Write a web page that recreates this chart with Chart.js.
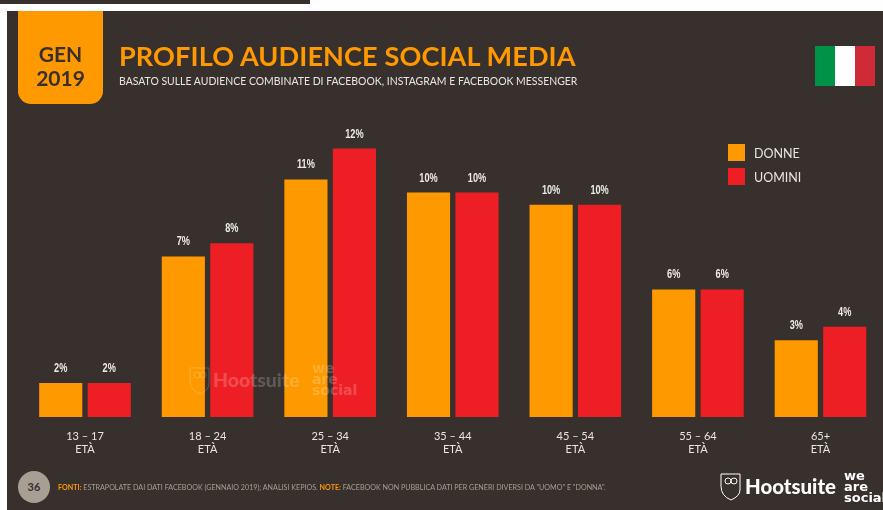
<!DOCTYPE html>
<html>
<head>
<meta charset="utf-8">
<script src="https://cdn.jsdelivr.net/npm/chart.js@4"></script>
<style>
html, body { margin: 0; padding: 0; background: #fff; }
#page { position: relative; width: 883px; height: 510px; overflow: hidden; font-family: Lato, sans-serif; }
#topstrip { position: absolute; left: 0; top: 0; width: 310px; height: 4px; background: #37302c; }
#panel { position: absolute; left: 7px; top: 11px; width: 876px; height: 499px; background: #37302c; }
#chart { position: absolute; left: 0; top: 0; }
.t { position: absolute; white-space: nowrap; line-height: 1; }
#badge { position: absolute; left: 18px; top: 11px; width: 85px; height: 93px; background: #ff9900; border-radius: 0 0 13px 13px; color: #37302c; font-weight: 700; font-size: 21px; text-align: center; line-height: 24px; }
#badge div { position: relative; top: 31px; }
#title { left: 119px; top: 42px; font-size: 27.1px; font-weight: 700; color: #ff9900; letter-spacing: 0.1px; }
#subtitle { left: 119px; top: 76px; font-size: 10.45px; color: #e8e6e3; }
.flag { position: absolute; top: 46px; height: 40px; }
.swatch { position: absolute; left: 728px; width: 17px; height: 17px; }
.legtext { left: 754px; font-size: 12.5px; color: #e8e6e3; }
#pageno { position: absolute; left: 18px; top: 471px; width: 32px; height: 32px; border-radius: 50%; background: #a89f94; color: #37302c; font-size: 11px; font-weight: 700; text-align: center; line-height: 32px; }
#foot { left: 58px; top: 484px; font-size: 7.15px; color: #a89f94; }
#foot b { color: #ff9900; }
.hoot { font-weight: 900; color: #fff; }
.was { font-family: "DejaVu Sans", sans-serif; font-weight: 700; color: #fff; line-height: 11px; white-space: pre; }
.wm { opacity: 0.2; }
</style>
</head>
<body>
<div id="page">
  <div id="topstrip"></div>
  <div id="panel"></div>
  <canvas id="chart" width="883" height="510"></canvas>

  <div id="badge"><div>GEN<br>2019</div></div>
  <div class="t" id="title">PROFILO AUDIENCE SOCIAL MEDIA</div>
  <div class="t" id="subtitle">BASATO SULLE AUDIENCE COMBINATE DI FACEBOOK, INSTAGRAM E FACEBOOK MESSENGER</div>

  <div class="flag" style="left:815px;width:20px;background:#009246"></div>
  <div class="flag" style="left:835px;width:20px;background:#fff"></div>
  <div class="flag" style="left:855px;width:20px;background:#ce2b37"></div>

  <div id="legend"></div>

  <!-- watermark -->
  <svg class="wm" style="position:absolute;left:189px;top:366px" width="21" height="29" viewBox="0 0 21 29">
    <path d="M1 2 H20 V18 Q20 24 11 28 Q1 24 1 14 Z" fill="none" stroke="#fff" stroke-width="1"/>
    <circle cx="8" cy="9" r="3" fill="none" stroke="#fff"/><circle cx="14" cy="9" r="3" fill="none" stroke="#fff"/>
  </svg>
  <div class="t hoot wm" style="left:213px;top:370px;font-size:19.4px">Hootsuite</div>
  <div class="t was wm" style="left:312px;top:363px;font-size:14px">we
are
social</div>

  <div id="pageno">36</div>
  <div class="t" id="foot"><b>FONTI:</b> ESTRAPOLATE DAI DATI FACEBOOK (GENNAIO 2019); ANALISI KEPIOS. <b>NOTE:</b> FACEBOOK NON PUBBLICA DATI PER GENERI DIVERSI DA "UOMO" E "DONNA".</div>

  <svg style="position:absolute;left:720px;top:473px" width="21" height="28" viewBox="0 0 21 28">
    <path d="M1 1 H20 V17 Q20 23 11 27 Q1 23 1 13 Z" fill="none" stroke="#fff" stroke-width="1"/>
    <circle cx="8" cy="8" r="3" fill="none" stroke="#fff"/><circle cx="14" cy="8" r="3" fill="none" stroke="#fff"/>
  </svg>
  <div class="t hoot" style="left:745px;top:476px;font-size:20.4px">Hootsuite</div>
  <div class="t was" style="left:844px;top:470px;font-size:13px">we
are
social</div>
</div>

<script>
const ageGroups = [["13 – 17", "ETÀ"], ["18 – 24", "ETÀ"], ["25 – 34", "ETÀ"], ["35 – 44", "ETÀ"], ["45 – 54", "ETÀ"], ["55 – 64", "ETÀ"], ["65+", "ETÀ"]];
const donne = [1.55, 7.3, 10.8, 10.2, 9.65, 5.8, 3.49];
const uomini = [1.55, 7.9, 12.2, 10.2, 9.65, 5.8, 4.1];

const ORANGE = '#ff9900';
const RED = '#ee1f24';

// bar value labels, rounded to whole percent and squeezed to a condensed look
const valueLabels = {
    id: 'valueLabels',
    afterDatasetsDraw(chart) {
        const c = chart.ctx;
        c.save();
        c.font = 'bold 13.5px "Liberation Sans", sans-serif';
        c.fillStyle = '#ecebe8';
        c.textAlign = 'center';
        c.textBaseline = 'alphabetic';
        chart.data.datasets.forEach((ds, i) => {
            chart.getDatasetMeta(i).data.forEach((bar, j) => {
                c.save();
                c.translate(bar.x, bar.y - 11);
                c.scale(0.68, 1);
                c.fillText(Math.round(ds.data[j]) + '%', 0, 0);
                c.restore();
            });
        });
        c.restore();
    }
};

const chart = new Chart(document.querySelector('#chart').getContext('2d'), {
    type: 'bar',
    data: {
        labels: ageGroups,
        datasets: [
            { label: 'DONNE', data: donne, backgroundColor: ORANGE, categoryPercentage: 0.791, barPercentage: 0.89 },
            { label: 'UOMINI', data: uomini, backgroundColor: RED, categoryPercentage: 0.791, barPercentage: 0.89 }
        ]
    },
    options: {
        responsive: false,
        animation: false,
        layout: { padding: { left: 23.7, right: 1.2, top: 109, bottom: 0 } },
        scales: {
            x: {
                grid: { display: false },
                border: { display: false },
                afterFit(axis) { axis.height = 93; },
                ticks: {
                    color: '#e8e6e3',
                    padding: 5,
                    maxRotation: 0,
                    autoSkip: false,
                    font: { family: 'Lato', size: 11, lineHeight: 1.18 }
                }
            },
            y: { display: false, min: 0, max: 14 }
        },
        plugins: {
            legend: { display: false },
            tooltip: { enabled: false }
        }
    },
    plugins: [valueLabels]
});

// legend built from the datasets
chart.data.datasets.forEach((ds, i) => {
    const box = document.createElement('div');
    box.className = 'swatch';
    box.style.top = (144 + i * 24) + 'px';
    box.style.background = ds.backgroundColor;
    const txt = document.createElement('div');
    txt.className = 't legtext';
    txt.style.top = (148 + i * 24) + 'px';
    txt.textContent = ds.label;
    document.querySelector('#legend').append(box, txt);
});
</script>
</body>
</html>
